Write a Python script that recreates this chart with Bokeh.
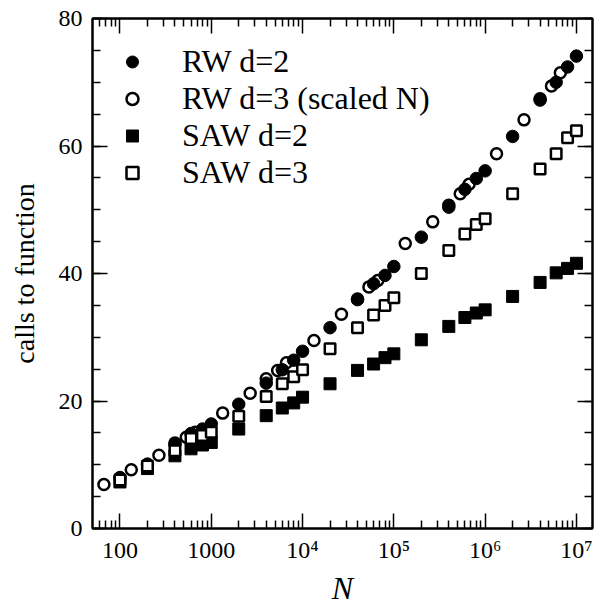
import numpy as np
from bokeh.plotting import figure
from bokeh.models import (LogAxis, LinearAxis, FixedTicker, Legend, LegendItem,
                          CustomJSTickFormatter, Range1d, SingleIntervalTicker)
from bokeh.embed import file_html
from bokeh.resources import INLINE

# ---- data ----
N_d2 = [100, 200, 400, 600, 800, 1000, 2000, 4000, 6000, 8000,
        1e4, 2e4, 4e4, 6e4, 8e4, 1e5, 2e5, 4e5, 6e5, 8e5,
        1e6, 2e6, 4e6, 6e6, 8e6, 1e7]
rw_d2 = [8.0, 10.1, 13.2, 14.9, 15.6, 16.4, 19.5, 22.8, 24.9, 26.4,
         27.8, 31.5, 35.9, 38.4, 39.7, 41.1, 45.7, 50.4, 53.2, 54.9,
         56.1, 61.5, 67.2, 70.0, 72.4, 74.1]
saw_d2 = [7.3, 9.4, 11.4, 12.5, 13.1, 13.5, 15.6, 17.7, 18.9, 19.7,
          20.6, 22.7, 24.8, 25.8, 26.8, 27.4, 29.6, 31.7, 33.1, 33.8,
          34.3, 36.4, 38.6, 40.1, 40.8, 41.6]
saw_d3 = [7.6, 9.8, 12.2, 14.1, 14.6, 15.1, 17.6, 20.7, 22.7, 23.8,
          24.9, 28.2, 31.5, 33.5, 35.0, 36.2, 40.0, 43.6, 46.2, 47.7,
          48.6, 52.5, 56.4, 58.8, 61.3, 62.4]
N_rw_d3 = [66.7, 133, 267, 400, 533, 667, 1333, 2667, 4000, 5333,
           6667, 13333, 26667, 40000, 53333, 66667, 133333, 266667, 400000, 533333,
           666667, 1333333, 2666667, 4000000, 5333333, 6666667]
rw_d3 = [6.9, 9.2, 11.5, 13.4, 14.3, 15.1, 18.1, 21.2, 23.5, 24.8,
         26.0, 29.5, 33.6, 36.0, 37.9, 38.9, 44.7, 48.1, 50.7, 52.5,
         54.0, 58.8, 64.1, 67.4, 69.4, 71.5]

labels = ["RW d=2", "RW d=3 (scaled N)", "SAW d=2", "SAW d=3"]
x_major = [1e2, 1e3, 1e4, 1e5, 1e6, 1e7]
FONT = "Liberation Serif"

p = figure(frame_width=500, frame_height=510, x_axis_type="log",
           x_range=Range1d(50, 1.5e7), y_range=Range1d(0, 80),
           output_backend="svg", toolbar_location=None,
           min_border_left=92, min_border_top=18, min_border_right=4,
           min_border_bottom=0, background_fill_color="white")
p.xgrid.visible = False
p.ygrid.visible = False
p.outline_line_color = "black"
p.outline_line_width = 2

x_minor = [m * 10 ** k for k in range(1, 7) for m in range(2, 10) if 55 < m * 10 ** k < 1.5e7]
xticker = FixedTicker(ticks=x_major, minor_ticks=x_minor)
yticker = SingleIntervalTicker(interval=20, num_minor_ticks=4)

xfmt = CustomJSTickFormatter(code="""
const e = Math.round(Math.log10(tick));
if (e <= 3) { return String(Math.round(tick)); }
const sup = {'0':'\u2070','1':'\u00b9','2':'\u00b2','3':'\u00b3','4':'\u2074','5':'\u2075','6':'\u2076','7':'\u2077','8':'\u2078','9':'\u2079'};
return '10' + String(e).split('').map(c => sup[c]).join('');
""")
blank = CustomJSTickFormatter(code="return '';")

def style(ax):
    ax.major_tick_in = 15
    ax.major_tick_out = 0
    ax.minor_tick_in = 8
    ax.minor_tick_out = 0
    ax.major_tick_line_width = 1.5
    ax.minor_tick_line_width = 1.5
    ax.axis_line_width = 2
    ax.major_tick_line_color = "black"
    ax.minor_tick_line_color = "black"
    ax.axis_line_color = "black"
    ax.major_label_text_font = FONT
    ax.major_label_text_font_size = "24px"
    ax.major_label_text_color = "black"
    ax.axis_label_text_font = FONT
    ax.axis_label_text_color = "black"

xa = p.xaxis[0]
xa.ticker = xticker
xa.formatter = xfmt
style(xa)
xa.major_label_standoff = 8
xa.axis_label = "N"
xa.axis_label_text_font_style = "italic"
xa.axis_label_text_font_size = "32px"
xa.axis_label_standoff = 4

ya = p.yaxis[0]
ya.ticker = yticker
style(ya)
ya.major_label_standoff = 10
ya.axis_label = "calls to function"
ya.axis_label_text_font_style = "normal"
ya.axis_label_text_font_size = "28px"
ya.axis_label_standoff = 16

top = LogAxis(ticker=xticker, formatter=blank)
style(top)
top.major_label_standoff = 0
p.add_layout(top, "above")
right = LinearAxis(ticker=yticker, formatter=blank)
style(right)
right.major_label_standoff = 0
p.add_layout(right, "right")

# draw order: open circles, filled circles, filled squares, open squares
r_rw3 = p.scatter(N_rw_d3, rw_d3, marker="circle", size=11, fill_color=None,
                  line_color="black", line_width=2.5)
r_rw2 = p.scatter(N_d2, rw_d2, marker="circle", size=12.5, fill_color="black",
                  line_color="black", line_width=1)
r_saw2 = p.scatter(N_d2, saw_d2, marker="square", size=12, fill_color="black",
                   line_color="black", line_width=1)
r_saw3 = p.scatter(N_d2, saw_d3, marker="square", size=10.5, fill_color="white",
                   line_color="black", line_width=2.5)

legend = Legend(items=[LegendItem(label=labels[0], renderers=[r_rw2]),
                       LegendItem(label=labels[1], renderers=[r_rw3]),
                       LegendItem(label=labels[2], renderers=[r_saw2]),
                       LegendItem(label=labels[3], renderers=[r_saw3])],
                location="top_left", margin=25, padding=0, spacing=0,
                glyph_width=30, glyph_height=37, label_height=37,
                label_standoff=35, label_text_font=FONT,
                label_text_font_size="32px", label_text_color="black",
                background_fill_alpha=0, border_line_alpha=0)
p.add_layout(legend)

open("out.html", "w").write(file_html(p, INLINE))
